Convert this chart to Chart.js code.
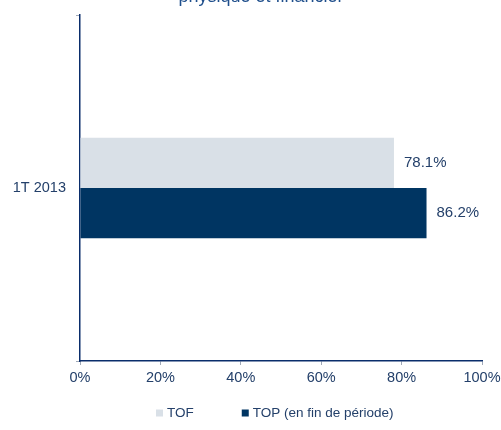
<!DOCTYPE html>
<html>
<head>
<meta charset="utf-8">
<script src="https://cdn.jsdelivr.net/npm/chart.js@4/dist/chart.umd.min.js"></script>
<style>
  html, body { margin: 0; padding: 0; background: #fff; overflow: hidden; }
  #wrap { width: 501px; height: 430px; overflow: hidden; position: relative; }
  #c { position: absolute; left: 0; top: -14px; }
</style>
</head>
<body>
<div id="wrap"><canvas id="c" width="522" height="444"></canvas></div>
<script>
const categories = ["1T 2013"];
const seriesNames = ["TOF", "TOP (en fin de période)"];
const tofValues = [78.1];
const topValues = [86.2];
const xTicks = [0, 20, 40, 60, 80, 100];
const titleText = "physique et financier";

const textColor = "#24406a";
const FONT = "'Liberation Sans', Arial, Helvetica, sans-serif";

const valueLabels = {
  id: "valueLabels",
  afterDatasetsDraw(chart) {
    const ctx = chart.ctx;
    ctx.save();
    ctx.font = "15px " + FONT;
    ctx.fillStyle = textColor;
    ctx.textAlign = "left";
    ctx.textBaseline = "middle";
    chart.data.datasets.forEach((ds, i) => {
      chart.getDatasetMeta(i).data.forEach((bar, j) => {
        ctx.fillText(ds.data[j].toFixed(1) + "%", bar.x + 10, bar.y);
      });
    });
    ctx.restore();
  }
};

// Legend drawn below the axis, item by item from the datasets
const customLegend = {
  id: "customLegend",
  afterDraw(chart) {
    const ctx = chart.ctx;
    const area = chart.chartArea;
    ctx.save();
    ctx.font = "13.5px " + FONT;
    ctx.textBaseline = "middle";
    ctx.textAlign = "left";
    const box = 7, gapText = 4, gapItem = 48;
    let x = area.left + 76;
    const y = area.bottom + 52;
    chart.data.datasets.forEach(ds => {
      ctx.fillStyle = ds.backgroundColor;
      ctx.fillRect(x, y - box / 2, box, box);
      x += box + gapText;
      ctx.fillStyle = textColor;
      ctx.fillText(ds.label, x, y);
      x += ctx.measureText(ds.label).width + gapItem;
    });
    ctx.restore();
  }
};

new Chart(document.getElementById("c"), {
  type: "bar",
  data: {
    labels: categories,
    datasets: [
      { label: seriesNames[0], data: tofValues, backgroundColor: "#d9e0e7", barPercentage: 1, categoryPercentage: 0.29 },
      { label: seriesNames[1], data: topValues, backgroundColor: "#003562", barPercentage: 1, categoryPercentage: 0.29 }
    ]
  },
  options: {
    indexAxis: "y",
    responsive: false,
    animation: false,
    layout: { padding: { left: 0, right: 0, top: 0, bottom: 39 } },
    plugins: {
      title: {
        display: true,
        text: titleText,
        color: "#1f4f8c",
        font: { family: FONT, size: 18, weight: "normal" },
        padding: { top: 0, bottom: 7.4 }
      },
      legend: { display: false },
      tooltip: { enabled: false }
    },
    scales: {
      x: {
        min: 0, max: 100,
        afterBuildTicks(scale) { scale.ticks = xTicks.map(v => ({ value: v })); },
        afterFit(scale) { scale.height = 30; scale.paddingLeft = 0; scale.paddingRight = 40; },
        border: { color: "#0a2d6b", width: 1.5 },
        grid: { drawOnChartArea: false, drawTicks: true, tickLength: 4, color: "#a0a9b8" },
        ticks: { color: textColor, font: { family: FONT, size: 14.5 }, padding: 4, callback: v => v + "%" }
      },
      y: {
        afterFit(scale) { scale.width = 80; scale.paddingTop = 0; scale.paddingBottom = 0; },
        border: { color: "#0a2d6b", width: 1.5 },
        grid: { drawOnChartArea: false, drawTicks: true, tickLength: 4, color: "#a0a9b8" },
        ticks: { color: textColor, font: { family: FONT, size: 14.5 }, padding: 10 }
      }
    }
  },
  plugins: [valueLabels, customLegend]
});
</script>
</body>
</html>
